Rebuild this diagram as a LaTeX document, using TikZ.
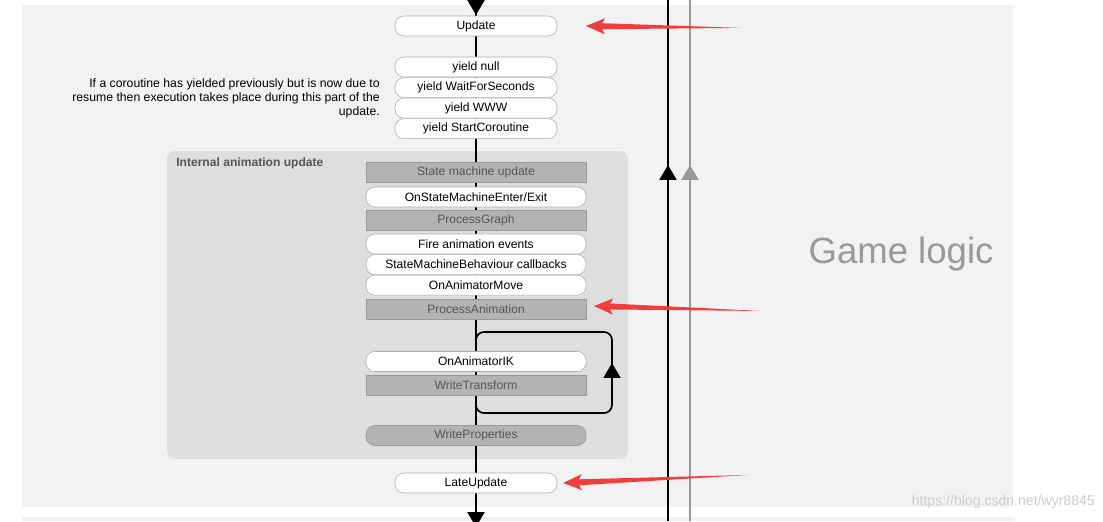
\documentclass[tikz,border=0pt]{standalone}
\usepackage{fontspec}
\setmainfont{Liberation Sans}
\usetikzlibrary{positioning,arrows.meta}
\definecolor{bggray}{HTML}{F2F2F2}
\definecolor{panelgray}{HTML}{DEDEDE}
\definecolor{boxgray}{HTML}{B3B3B3}
\definecolor{edgegray}{HTML}{999999}
\definecolor{textgray}{HTML}{555555}
\definecolor{arrowred}{HTML}{F23D3D}
\tikzset{>=Triangle}

\begin{document}
\begin{tikzpicture}[x=0.025cm,y=-0.025cm]
      \tikzset{base/.style={minimum height=0.5cm,inner sep=0pt,font=\fontsize{8.6}{10}\selectfont}}
      \tikzset{event/.style={base,draw=edgegray!80,fill=white,rounded corners=0.22cm,minimum width=4.05cm}}
      \tikzset{anim event/.style={event,minimum width=5.5cm}}
      \tikzset{internal/.style={base,draw=edgegray,fill=boxgray,text=textgray,minimum width=5.5cm}}
      \tikzset{internal round/.style={internal,rounded corners=0.22cm}}
      \tikzset{flow/.style={line width=1.4pt,draw=black}}
      \tikzset{head/.style={-{Triangle[width=12pt,length=10.5pt]}}}
      \tikzset{pics/redarrow/.style={code={
            \fill[arrowred] (0,0) -- (19,-8) -- (16,-3) -- (#1,0) -- (16,3) -- (19,8) -- cycle;}}}

      \useasboundingbox (0,0) rectangle (1103,521);
      \clip (0,0) rectangle (1103,521);

      % backgrounds
      \fill[bggray] (22,5) rectangle (1013,507);
      \fill[bggray] (22,517) rectangle (1013,521);
      \fill[panelgray,rounded corners=0.2cm] (167,151) rectangle (628,459);
      \node[anchor=west,font=\bfseries\fontsize{8.6}{10}\selectfont,text=textgray,inner sep=0pt]
        (title) at (176,163.5) {Internal animation update};

      % main flow line
      \coordinate (flowtop) at (476,-2);
      \coordinate (flowbot) at (476,527);
      \draw[flow] (flowtop) -- (flowbot);
      \draw[flow,head] (flowtop) -- (476,15);
      \draw[flow,head] (476,505) -- (flowbot);

      % IK loop
      \coordinate (loopnw) at (476,332);
      \coordinate (loopse) at (612,413);
      \draw[flow,line width=1.2pt,rounded corners=0.2cm] (loopnw) rectangle (loopse);
      \draw[flow,line width=1.2pt,head] (612,395) -- (612,363);

      % update nodes
      \node[event] (update) at (476,26) {Update};
      \node[event] (ynull) at (476,67) {yield null};
      \node[event,below=0pt of ynull] (ywait) {yield WaitForSeconds};
      \node[event,below=0pt of ywait] (ywww) {yield WWW};
      \node[event,below=0pt of ywww] (ystart) {yield StartCoroutine};

      \node[anchor=east,align=right,inner sep=0pt,font=\fontsize{8.7}{10}\selectfont]
        (note) at (380,98) {If a coroutine has yielded previously but is now due to\ \\
        resume then execution takes place during this part of the\ \\ update.};

      % animation nodes
      \node[internal] (smupdate) at (476,172) {State machine update};
      \node[anim event] (smenter) at (476,197) {OnStateMachineEnter/Exit};
      \node[internal] (procgraph) at (476,220.5) {ProcessGraph};
      \node[anim event] (fireev) at (476,244) {Fire animation events};
      \node[anim event,below=0pt of fireev] (smbcb) {StateMachineBehaviour callbacks};
      \node[anim event,below=0pt of smbcb] (onmove) {OnAnimatorMove};
      \node[internal] (procanim) at (476,309.5) {ProcessAnimation};
      \node[anim event] (onik) at (476,361.5) {OnAnimatorIK};
      \node[internal] (writetr) at (476,385.5) {WriteTransform};
      \node[internal round] (writeprop) at (476,435.5) {WriteProperties};
      \node[event] (lateupd) at (476,483) {LateUpdate};

      % game logic lines
      \coordinate (blacktop) at (668,0);
      \coordinate (blackbot) at (668,521);
      \coordinate (graytop) at (690,0);
      \coordinate (graybot) at (690,521);
      \draw[line width=1.4pt] (blackbot) -- (blacktop);
      \draw[line width=1.4pt,head] (668,200) -- (668,165);
      \draw[line width=1.4pt,edgegray] (graybot) -- (graytop);
      \draw[line width=1.4pt,edgegray,head] (690,200) -- (690,165);
      \node[text=edgegray,font=\fontsize{26}{30}\selectfont,inner sep=0pt] (gamelogic) at (901,254) {Game logic};

      % red markers
      \pic[rotate=-0.7] at (586,26) {redarrow=155};
      \pic[rotate=-1.7] at (594,306) {redarrow=166};
      \pic[rotate=2.5] at (563,483) {redarrow=185};

      \node[anchor=east,text=black!20,font=\fontsize{10}{12}\selectfont,inner sep=0pt]
        (mark) at (1095,502) {https://blog.csdn.net/wyr8845};
    \end{tikzpicture}
\end{document}
